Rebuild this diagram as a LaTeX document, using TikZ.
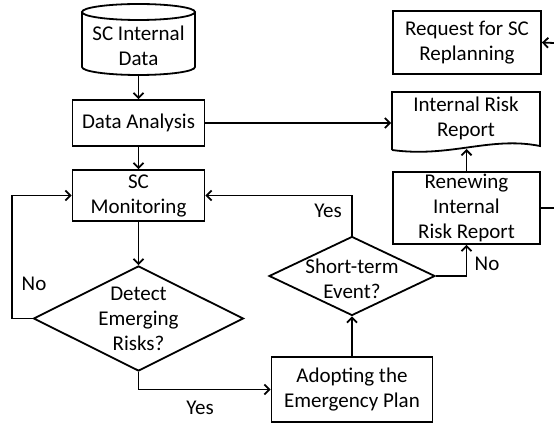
\documentclass[tikz,border=0pt]{standalone}
\usepackage{fontspec}
\setmainfont{Carlito}
\usetikzlibrary{arrows.meta,shapes.geometric}
\begin{document}
\begin{tikzpicture}[x=1pt,y=-1pt,line width=1.8pt,
  every node/.style={font=\fontsize{21}{25}\selectfont, align=center, inner sep=0pt},
  box/.style={draw, rectangle},
  dmd/.style={draw, diamond},
  conn/.style={-{Straight Barb[length=5pt,width=10pt]}},
  lbl/.style={}]
\useasboundingbox (0,0) rectangle (554,427);
% cylinder
\node[minimum width=113, minimum height=71] (cyl) at (138.5,40) {};
\draw (82,12) -- (82,67) arc[start angle=180,end angle=0,x radius=56.5,y radius=8] -- (195,12);
\draw (138.5,12) ellipse[x radius=56.5,y radius=8];
\node (cylt) at (138.5,46) {SC Internal\\Data};
% boxes
\node[box, minimum width=132, minimum height=46] (da) at (138.5,123) {Data Analysis};
\node[box, minimum width=132, minimum height=51] (scm) at (138.5,195.5) {SC\\Monitoring};
\node[box, minimum width=148, minimum height=63] (req) at (467,42.5) {Request for SC\\Replanning};
\node[box, minimum width=147, minimum height=72] (ren) at (466.5,208) {Renewing\\Internal\\Risk Report};
\node[box, minimum width=161, minimum height=65] (ad) at (352,389.5) {Adopting the\\Emergency Plan};
% document
\node[minimum width=148, minimum height=58] (irr) at (466,121) {};
\draw (392,150) -- (392,92) -- (540,92) -- (540,146)
  .. controls (490,136) and (450,158) .. (392,150);
\node (irrt) at (466,118) {Internal Risk\\Report};
% diamonds
\node[dmd, minimum width=210, minimum height=105] (det) at (138.5,318.5) {};
\node (dett) at (138.5,319) {Detect\\Emerging\\Risks?};
\node[dmd, minimum width=166, minimum height=79] (st) at (352,276) {};
\node (stt) at (352,279) {Short-term\\Event?};
% edge coordinates
\coordinate (eR) at (554,43);
\coordinate (nl) at (12,0);
% connectors
\draw[conn] (cyl.south) -- (da.north);
\draw[conn] (da.south) -- (scm.north);
\draw[conn] (da.east) -- (da.east -| irr.west);
\draw[conn] (scm.south) -- (det.north);
\draw[conn] (det.west) -- (det.west -| nl) |- (scm.west);
\draw[conn] (det.south) |- (ad.west);
\draw[conn] (ad.north) -- (st.south);
\draw[conn] (st.north) |- (scm.east);
\draw[conn] (st.east) -| (ren.south);
\draw[conn] (ren.north) -- (466.5,149);
\draw (ren.east) -- (ren.east -| eR);
\draw[conn] (eR) -- (req.east);
% labels
\node[lbl] (lno1) at (34,284) {No};
\node[lbl] (lyes1) at (200,408) {Yes};
\node[lbl] (lyes2) at (328,211) {Yes};
\node[lbl] (lno2) at (487,264) {No};
\end{tikzpicture}
\end{document}
